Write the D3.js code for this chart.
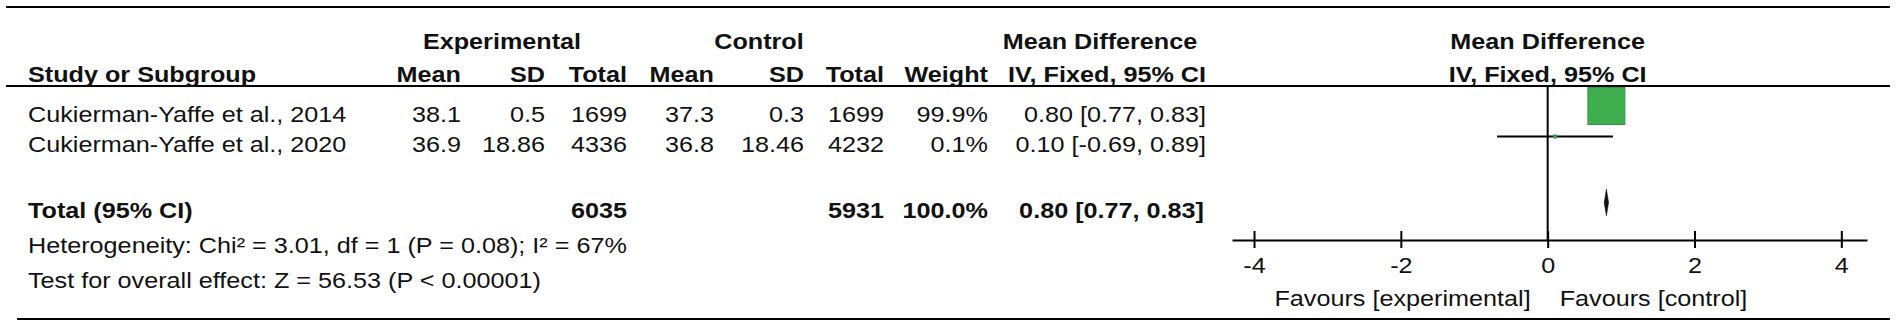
<!DOCTYPE html>
<html>
<head>
<meta charset="utf-8">
<script src="https://cdn.jsdelivr.net/npm/d3@7"></script>
<style>
  body { margin: 0; background: #fff; }
  text { font-family: "Liberation Sans", Arial, sans-serif; font-size: 22px; fill: #111; }
  .b { font-weight: bold; }
</style>
</head>
<body>
<div id="chart"></div>
<script>
"use strict";

// == DATA ==
var studies = ["Cukierman-Yaffe et al., 2014", "Cukierman-Yaffe et al., 2020"];
var expMean = [38.1, 36.9];
var expSD = [0.5, 18.86];
var expTotal = [1699, 4336];
var ctlMean = [37.3, 36.8];
var ctlSD = [0.3, 18.46];
var ctlTotal = [1699, 4232];
var weights = [99.9, 0.1];
var md = [0.80, 0.10];
var mdLow = [0.77, -0.69];
var mdHigh = [0.83, 0.89];

var totalLabel = "Total (95% CI)";
var totalN = [6035, 5931];
var totalWeight = 100.0;
var pooled = [0.80, 0.77, 0.83];
var heterogeneity = "Heterogeneity: Chi\u00b2 = 3.01, df = 1 (P = 0.08); I\u00b2 = 67%";
var overallTest = "Test for overall effect: Z = 56.53 (P < 0.00001)";

var axisTicks = [-4, -2, 0, 2, 4];
var favours = ["Favours [experimental]", "Favours [control]"];

// == BOILERPLATE ==
var width = 1902, height = 331;
var stretch = 1.145;

var svg = d3.select("#chart")
            .append("svg")
            .attr("width", width)
            .attr("height", height);

// plain hyphen for negatives, like RevMan
var loc = d3.formatLocale({ decimal: ".", thousands: ",", grouping: [3], currency: ["", ""], minus: "-" });
var fmt2 = loc.format(".2f");
var fmtInt = loc.format("d");

// stretch text horizontally like the picture
var widen = function(sel) {
  sel.each(function() {
    var w = this.getComputedTextLength();
    d3.select(this).attr("textLength", w * stretch).attr("lengthAdjust", "spacingAndGlyphs");
  });
};

var label = function(x, y, txt, anchor, bold) {
  svg.append("text")
     .attr("x", x)
     .attr("y", y)
     .attr("dy", "0.35em")
     .attr("text-anchor", anchor)
     .attr("class", bold ? "b" : null)
     .text(txt)
     .call(widen);
};

// row index -> vertical centre of text
var rowY = d3.scaleLinear().domain([0, 1]).range([114, 144.5]);
var footY = d3.scaleLinear().domain([0, 2]).range([210.5, 280]);
var markShift = -8;
var fx = d3.scaleLinear().domain([-4.3, 4.35]).range([1232, 1867]);
var boxSize = d3.scaleSqrt().domain([0, 100]).range([0, 37]);

var ciText = function(m, l, h) { return fmt2(m) + " [" + fmt2(l) + ", " + fmt2(h) + "]"; };

// == RULES ==
svg.append("line").attr("x1", 6).attr("x2", 1890).attr("y1", 7).attr("y2", 7)
   .attr("stroke", "#000").attr("stroke-width", 2);
svg.append("line").attr("x1", 6).attr("x2", 1890).attr("y1", 86).attr("y2", 86)
   .attr("stroke", "#000").attr("stroke-width", 2);
svg.append("line").attr("x1", 17).attr("x2", 1890).attr("y1", 319).attr("y2", 319)
   .attr("stroke", "#000").attr("stroke-width", 2);

// == HEADERS ==
label(502, 41, "Experimental", "middle", true);
label(759, 41, "Control", "middle", true);
label(1100, 41, "Mean Difference", "middle", true);
label(fx(0), 41, "Mean Difference", "middle", true);

label(28, 74, "Study or Subgroup", "start", true);
label(461, 74, "Mean", "end", true);
label(545, 74, "SD", "end", true);
label(627, 74, "Total", "end", true);
label(714, 74, "Mean", "end", true);
label(804, 74, "SD", "end", true);
label(884, 74, "Total", "end", true);
label(988, 74, "Weight", "end", true);
label(1206, 74, "IV, Fixed, 95% CI", "end", true);
label(fx(0), 74, "IV, Fixed, 95% CI", "middle", true);

// == STUDY ROWS ==
studies.forEach(function(s, i) {
  var y = rowY(i);
  label(28, y, s, "start", false);
  label(461, y, String(expMean[i]), "end", false);
  label(545, y, String(expSD[i]), "end", false);
  label(627, y, String(expTotal[i]), "end", false);
  label(714, y, String(ctlMean[i]), "end", false);
  label(804, y, String(ctlSD[i]), "end", false);
  label(884, y, String(ctlTotal[i]), "end", false);
  label(988, y, weights[i].toFixed(1) + "%", "end", false);
  label(1206, y, ciText(md[i], mdLow[i], mdHigh[i]), "end", false);
});

// == TOTAL / FOOTER TEXT ==
var yTot = footY(0);
label(28, yTot, totalLabel, "start", true);
label(627, yTot, String(totalN[0]), "end", true);
label(884, yTot, String(totalN[1]), "end", true);
label(988, yTot, totalWeight.toFixed(1) + "%", "end", true);
label(1204, yTot, ciText(pooled[0], pooled[1], pooled[2]), "end", true);
label(28, footY(1), heterogeneity, "start", false);
label(28, footY(2), overallTest, "start", false);

// == FOREST PLOT ==
var axisY = 240;

// line of no effect
svg.append("line")
   .attr("x1", fx(0)).attr("x2", fx(0))
   .attr("y1", 86).attr("y2", axisY)
   .attr("stroke", "#000").attr("stroke-width", 2);

var rows = studies.map(function(s, i) {
  return { md: md[i], lo: mdLow[i], hi: mdHigh[i], w: weights[i], y: rowY(i) + markShift };
});

svg.selectAll(".ci")
   .data(rows)
   .enter()
   .append("line")
   .attr("class", "ci")
   .attr("x1", function(d) { return fx(d.lo); })
   .attr("x2", function(d) { return fx(d.hi); })
   .attr("y1", function(d) { return d.y; })
   .attr("y2", function(d) { return d.y; })
   .attr("stroke", "#000")
   .attr("stroke-width", 2);

svg.selectAll(".box")
   .data(rows)
   .enter()
   .append("rect")
   .attr("class", "box")
   .attr("x", function(d) { return fx(d.md) - Math.max(boxSize(d.w), 3) / 2; })
   .attr("y", function(d) { return d.y - Math.max(boxSize(d.w), 3) / 2; })
   .attr("width", function(d) { return Math.max(boxSize(d.w), 3); })
   .attr("height", function(d) { return Math.max(boxSize(d.w), 3); })
   .style("fill", "#3fae4e")
   .style("stroke", "#2f9a3f")
   .style("stroke-width", 1);

// pooled diamond
var dh = 13.5;
var yDia = yTot + markShift;
svg.append("path")
   .attr("d", "M" + fx(pooled[1]) + "," + yDia +
              "L" + fx(pooled[0]) + "," + (yDia - dh) +
              "L" + fx(pooled[2]) + "," + yDia +
              "L" + fx(pooled[0]) + "," + (yDia + dh) + "Z")
   .style("fill", "#111")
   .style("stroke", "#111")
   .style("stroke-width", 0.5);

// axis
var axis = d3.axisBottom(fx)
             .tickValues(axisTicks)
             .tickFormat(fmtInt)
             .tickSizeInner(8)
             .tickSizeOuter(0)
             .tickPadding(9);

var gAxis = svg.append("g")
   .attr("transform", "translate(0," + axisY + ")")
   .call(axis);

gAxis.select(".domain").attr("stroke", "#000").attr("stroke-width", 2);
gAxis.selectAll(".tick line").attr("y1", -9).attr("stroke", "#000").attr("stroke-width", 2);
gAxis.selectAll(".tick text")
     .style("font-family", "\"Liberation Sans\", Arial, sans-serif")
     .style("font-size", "22px")
     .attr("fill", "#111")
     .call(widen);

label(fx(0) - 17, 298, favours[0], "end", false);
label(fx(0) + 12, 298, favours[1], "start", false);
</script>
</body>
</html>
